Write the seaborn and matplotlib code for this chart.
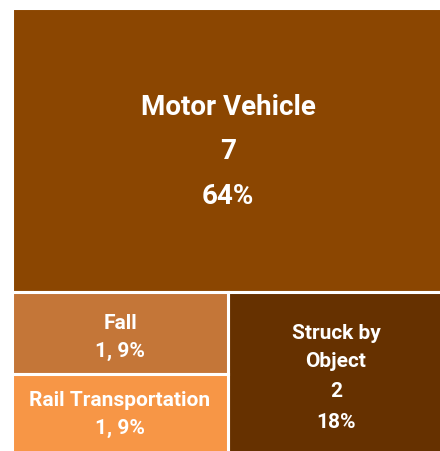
import matplotlib
matplotlib.use('Agg')
import matplotlib.pyplot as plt
import seaborn as sns

# causes of death and counts
categories = ['Motor Vehicle', 'Struck by Object', 'Fall', 'Rail Transportation']
counts = [7, 2, 1, 1]
colors = ['#8B4601', '#663100', '#C47638', '#F79646']

sns.set_theme(style='white')
plt.rcParams['font.family'] = ['Liberation Sans Narrow', 'Roboto', 'DejaVu Sans']

total = sum(counts)
shares = [c / total for c in counts]

# simple treemap layout: biggest on top, the rest split below
h_top = shares[0]
rest = total - counts[0]
w_right = counts[1] / rest
left_rest = counts[2] + counts[3]
h_fall = (1 - h_top) * counts[2] / left_rest

rects = [
    (0, 0, 1, h_top),
    (1 - w_right, h_top, w_right, 1 - h_top),
    (0, h_top, 1 - w_right, h_fall),
    (0, h_top + h_fall, 1 - w_right, 1 - h_top - h_fall),
]

fig = plt.figure(figsize=(4.4, 4.51), dpi=100)
# treemap runs a little past the right and bottom edges (clipped like the original)
ax = fig.add_axes([12 / 440, -4 / 451, 432 / 440, 447 / 451])

for (x, y, w, h), col in zip(rects, colors):
    ax.bar(x, h, width=w, bottom=y, align='edge', color=col,
           edgecolor='white', linewidth=2.2)

ax.set_xlim(0, 1)
ax.set_ylim(1, 0)
ax.axis('off')


def put(lines, rect, size, offsets):
    x, y, w, h = rect
    cx, cy = x + w / 2, y + h / 2
    for txt, off in zip(lines, offsets):
        ax.annotate(txt, (cx, cy), xytext=(0, off), textcoords='offset points',
                    ha='center', va='center', color='white',
                    fontsize=size, fontweight='bold')


pct = [f'{round(s * 100)}%' for s in shares]

put([categories[0], str(counts[0]), pct[0]], rects[0], 20, [31, -1, -33])
put(['Struck by', 'Object', str(counts[1]), pct[1]], rects[1], 15,
    [29, 9, -13, -35])
put([categories[2], f'{counts[2]}, {pct[2]}'], rects[2], 15, [7, -13])
put([categories[3], f'{counts[3]}, {pct[3]}'], rects[3], 15, [10, -10])

fig.savefig('out.png', dpi=100)
